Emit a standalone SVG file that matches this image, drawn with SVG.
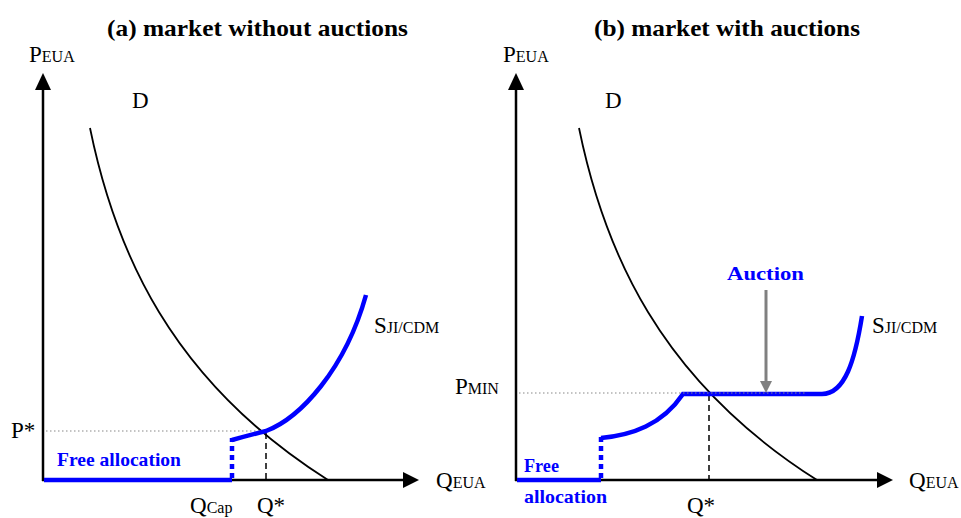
<svg xmlns="http://www.w3.org/2000/svg" width="961" height="518" viewBox="0 0 961 518">
<style>
.ax{stroke:#000;stroke-width:2.5;fill:none}
.dem{stroke:#000;stroke-width:1.8;fill:none}
.sup{stroke:#0000ff;stroke-width:4.5;fill:none}
.supd{stroke:#0000ff;stroke-width:4.5;fill:none;stroke-dasharray:5,4}
.gdot{stroke:#888;stroke-width:1.2;fill:none;stroke-dasharray:1.5,2.5}
.kdash{stroke:#000;stroke-width:1.5;fill:none;stroke-dasharray:6,4}
.t{font-family:"Liberation Serif",serif;fill:#000}
.big{font-size:23px}
.sm{font-size:16px}
.title{font-family:"Liberation Serif",serif;font-weight:bold;font-size:23px;fill:#000}
.blue{font-family:"Liberation Serif",serif;font-weight:bold;font-size:19px;fill:#0000ff}
</style>

<g id="titles">
<text class="title" x="107" y="36" textLength="301" lengthAdjust="spacingAndGlyphs">(a) market without auctions</text>
<text class="title" x="594" y="36" textLength="266" lengthAdjust="spacingAndGlyphs">(b) market with auctions</text>
</g>

<g id="connectors">
<line class="ax" x1="43" y1="481" x2="43" y2="90"/>
<path d="M35,90 L43,73 L51,90 Z" fill="#000"/>
<line class="ax" x1="42" y1="480" x2="403" y2="480"/>
<path d="M403,472 L419,480 L403,488 Z" fill="#000"/>
<line class="ax" x1="516" y1="481" x2="516" y2="90"/>
<path d="M508,90 L516,73 L524,90 Z" fill="#000"/>
<line class="ax" x1="515" y1="480" x2="877" y2="480"/>
<path d="M877,472 L893,480 L877,488 Z" fill="#000"/>
</g>

<g id="panel-a">
<path class="dem" d="M90,128 C115,250 170,380 328,480"/>
<line class="gdot" x1="46" y1="431" x2="266" y2="431"/>
<line class="kdash" x1="266" y1="433" x2="266" y2="479"/>
<line class="sup" x1="44" y1="480" x2="232" y2="480"/>
<line class="supd" x1="232" y1="478" x2="232" y2="438"/>
<path class="sup" d="M232,440 Q250,435 266,431 C300,418 345,370 366,295"/>
</g>

<g id="panel-b">
<path class="dem" d="M579,128 C604,250 659,380 817,480"/>
<line class="kdash" x1="709" y1="395" x2="709" y2="479"/>
<line class="sup" x1="517" y1="480" x2="601" y2="480"/>
<line class="supd" x1="601" y1="478" x2="601" y2="436"/>
<path class="sup" d="M601,438 C632,435 662,425 683,394 L822,394 C845,394 855,360 862,316"/>
<line class="gdot" x1="519" y1="393" x2="805" y2="393"/>
<line x1="766" y1="290" x2="766" y2="381" stroke="#808080" stroke-width="3"/>
<path d="M760,381 L766,393 L772,381 Z" fill="#808080"/>
</g>

<g id="labels-a">
<text class="t big" x="29" y="62">P<tspan class="sm">EUA</tspan></text>
<text class="t big" x="132" y="108">D</text>
<text class="t big" x="11" y="438">P*</text>
<text class="blue" x="57" y="466" textLength="124" lengthAdjust="spacingAndGlyphs">Free allocation</text>
<text class="t big" x="190" y="513">Q<tspan class="sm">Cap</tspan></text>
<text class="t big" x="257" y="513">Q*</text>
<text class="t big" x="374" y="333">S<tspan class="sm">JI/CDM</tspan></text>
<text class="t big" x="436" y="488">Q<tspan class="sm">EUA</tspan></text>
</g>

<g id="labels-b">
<text class="t big" x="503" y="62">P<tspan class="sm">EUA</tspan></text>
<text class="t big" x="605" y="108">D</text>
<text class="t big" x="455" y="394">P<tspan class="sm">MIN</tspan></text>
<text class="blue" x="524" y="472" textLength="35" lengthAdjust="spacingAndGlyphs">Free</text>
<text class="blue" x="524" y="503" textLength="83" lengthAdjust="spacingAndGlyphs">allocation</text>
<text class="t big" x="687" y="513">Q*</text>
<text class="blue" x="727" y="280" textLength="77" lengthAdjust="spacingAndGlyphs">Auction</text>
<text class="t big" x="872" y="333">S<tspan class="sm">JI/CDM</tspan></text>
<text class="t big" x="909" y="488">Q<tspan class="sm">EUA</tspan></text>
</g>
</svg>
